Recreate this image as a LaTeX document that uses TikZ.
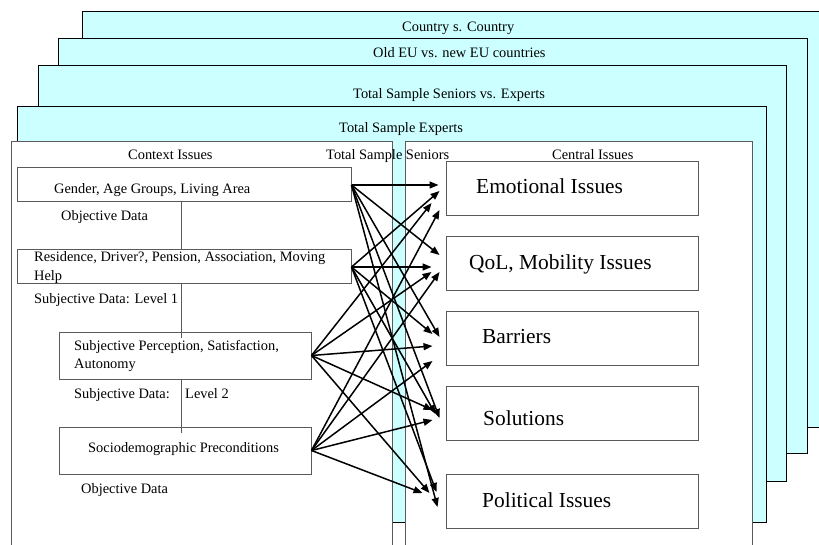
\documentclass[tikz,border=0pt]{standalone}
\usepackage{fontspec}
\setmainfont{Liberation Serif}
\usetikzlibrary{arrows.meta,calc}

\definecolor{panelcyan}{HTML}{CCFFFF}
\definecolor{boxgray}{HTML}{5A5A5A}

\newcommand{\smalltext}{\fontsize{14.4}{17}\selectfont}
\newcommand{\bigtext}{\fontsize{21.4}{25}\selectfont}

\tikzset{
    panel/.style={draw=black, fill=panelcyan, line width=1pt},
    sheet/.style={draw=boxgray, fill=white, line width=1pt},
    databox/.style={draw=boxgray, fill=white, line width=1pt, inner sep=0pt},
    issue/.style={databox, minimum width=252pt, minimum height=54pt},
    lbl/.style={anchor=base west, inner sep=0pt, font=\smalltext},
    biglbl/.style={anchor=base west, inner sep=0pt, font=\bigtext},
    link/.style={draw=boxgray, line width=1pt},
    arr/.style={-{Triangle[length=9pt,width=7pt]}, line width=1.5pt},
}

\begin{document}
\begin{tikzpicture}[x=1pt, y=-1pt]
        \useasboundingbox (0,0) rectangle (819,545);
        \clip (0,0) rectangle (819,545);

        % Samples
        \draw[panel] (82, 12) rectangle (830, 427);
        \draw[panel] (58, 39) rectangle (807, 453);
        \draw[panel] (38, 66) rectangle (786, 481);
        \draw[panel] (17, 107) rectangle (766, 522);
        %% seniors
        \draw[sheet] (11, 142) rectangle (392, 560);
        \draw[sheet] (405, 142) rectangle (752, 560);

        \node[lbl] (country) at (402, 32) {Country s. Country};
        \node[lbl] (oldnew) at (373, 58) {Old EU vs. new EU countries};
        \node[lbl] (senexp) at (353, 99) {Total Sample Seniors vs. Experts};
        \node[lbl] (experts) at (339, 133) {Total Sample Experts};
        \node[lbl] (seniors) at (326, 160) {Total Sample Seniors};
        \node[lbl] (context) at (128, 160) {Context Issues};
        \node[lbl] (central) at (552, 160) {Central Issues};

        % Context issues
        \node[databox, minimum width=334pt, minimum height=34pt] (gender) at (184, 185) {};
        \node[databox, minimum width=334pt, minimum height=34pt] (res) at (184, 267) {};
        \node[databox, minimum width=252pt, minimum height=47pt] (subj) at (185, 355.5) {};
        \node[databox, minimum width=252pt, minimum height=47pt] (socio) at (185, 450.5) {};

        \node[lbl] (genderTxt) at (54, 194) {Gender, Age Groups, Living Area};
        \node[lbl] (resTxt) at (34, 262) {Residence, Driver?, Pension, Association, Moving};
        \node[lbl] (resTxtB) at (34, 280) {Help};
        \node[lbl] (subjTxt) at (74, 350) {Subjective Perception, Satisfaction,};
        \node[lbl] (subjTxtB) at (74, 368) {Autonomy};
        \node[lbl] (socioTxt) at (88, 452) {Sociodemographic Preconditions};

        \node[lbl] (objA) at (61, 221) {Objective Data};
        \node[lbl] (levelA) at (34, 303) {Subjective Data: Level 1};
        \node[lbl] (levelB) at (74, 398) {Subjective Data:};
        \node[lbl] (levelBnum) at (185, 398) {Level 2};
        \node[lbl] (objB) at (81, 493) {Objective Data};

        \coordinate (spine) at (181, 0);
        \draw[link] (gender.south -| spine) -- (res.north -| spine);
        \draw[link] (res.south -| spine) -- ($(subj.north -| spine)+(0,6)$);
        \draw[link] (subj.south -| spine) -- ($(socio.north -| spine)+(0,6)$);

        % Central issues
        \node[issue] (emo) at (572, 189) {};
        \node[issue] (qol) at (572, 264) {};
        \node[issue] (barr) at (572, 338.5) {};
        \node[issue] (sol) at (572, 413) {};
        \node[issue] (pol) at (572, 501) {};

        \node[biglbl] (emoTxt) at (476, 194) {Emotional Issues};
        \node[biglbl] (qolTxt) at (469, 270) {QoL, Mobility Issues};
        \node[biglbl] (barrTxt) at (482, 343) {Barriers};
        \node[biglbl] (solTxt) at (483, 425) {Solutions};
        \node[biglbl] (polTxt) at (482, 507) {Political Issues};

        % Every context issue to every central issue
        \foreach \src/\dst/\dx/\dy in {
            gender/emo/-7/-4, res/emo/-6/2, subj/emo/-14/14, socio/emo/-6/21,
            gender/qol/-6/-9, res/qol/-14/3, subj/qol/-14/8, socio/qol/-6/8,
            gender/barr/-6/-1.5, res/barr/-13/-4.5, subj/barr/-13/7.5, socio/barr/-13/22.5,
            gender/sol/-6/5, res/sol/-10/1, subj/sol/-13/-3, socio/sol/-13/7,
            gender/pol/-8/6, res/pol/-9/-9, subj/pol/-16/-8, socio/pol/-23/-8
        } {
            \draw[arr] (\src.east) -- ($(\dst.west)+(\dx,\dy)$);
        }

\end{tikzpicture}
\end{document}
